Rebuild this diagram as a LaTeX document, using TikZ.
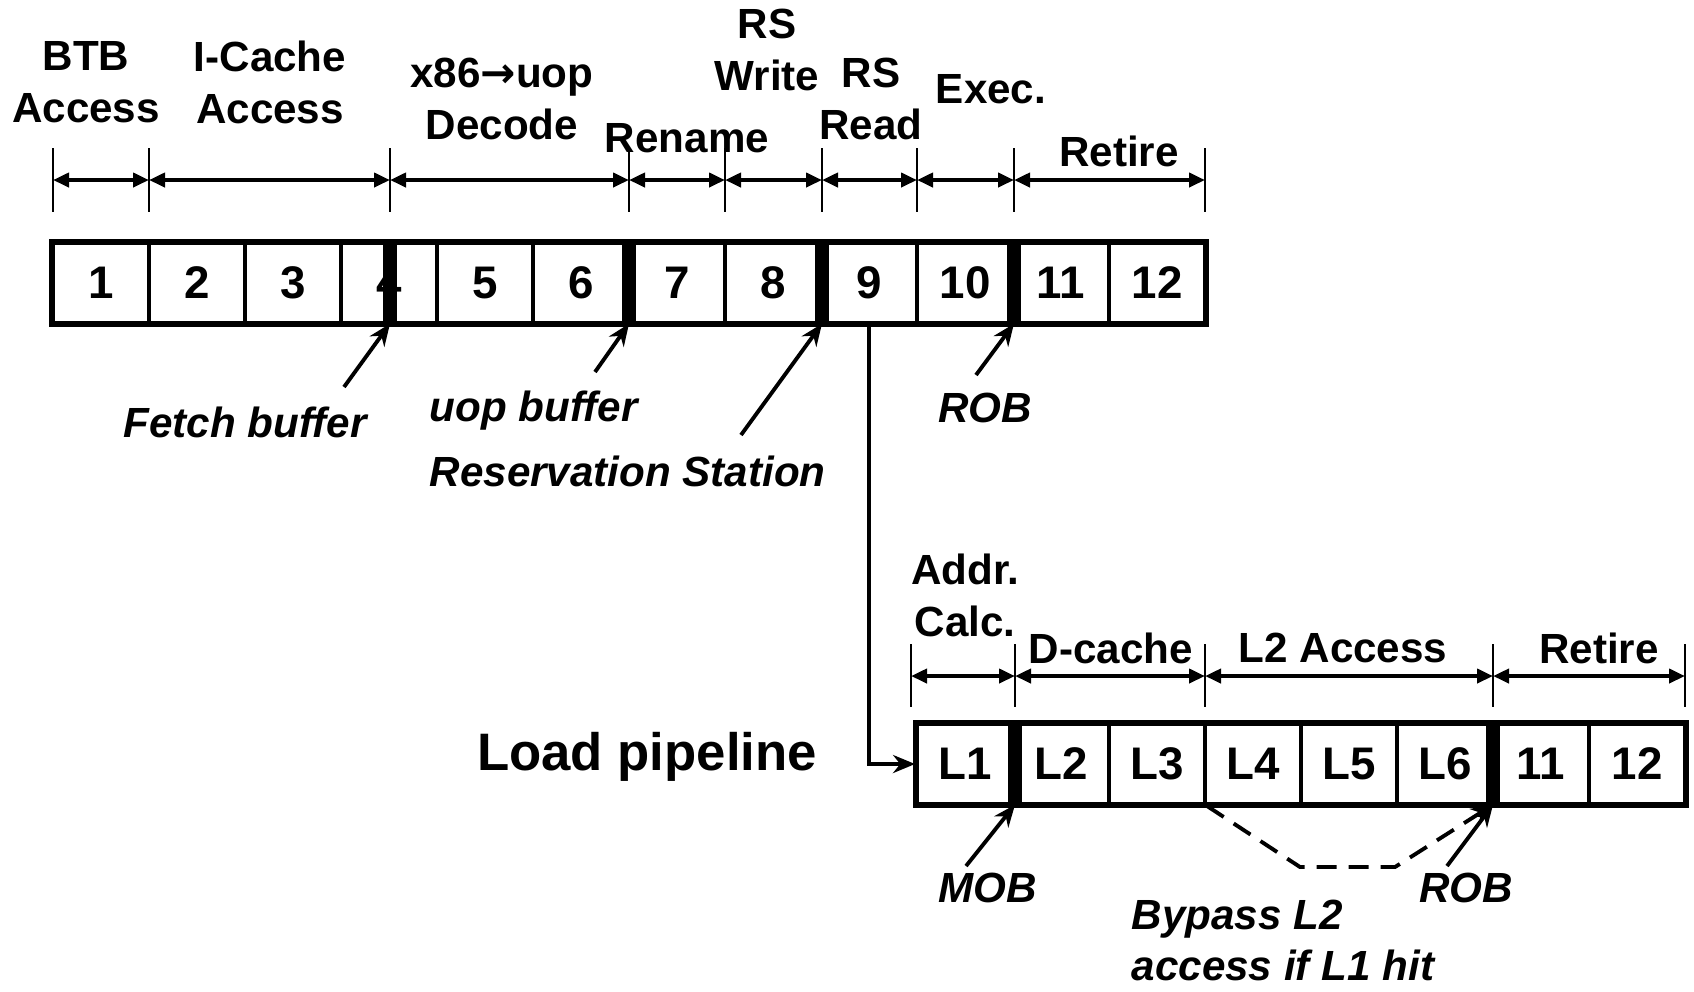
\documentclass[tikz,border=0pt]{standalone}
\usepackage{fontspec}
\setmainfont{Liberation Sans}
\newfontfamily\arrowfont{DejaVu Sans}
\usetikzlibrary{positioning,arrows.meta}
\tikzset{
  stage-cell/.style={draw,line width=1.1pt,minimum width=9.6mm,minimum height=8mm,
    inner sep=0pt,font=\fontsize{13}{15}\selectfont\bfseries},
  stage-bar/.style={fill=black,minimum width=1.4mm,minimum height=8mm,inner sep=0pt},
  frame/.style={line width=1.4pt},
  stage-label/.style={align=center,inner sep=0pt,font=\fontsize{12}{14.8}\selectfont\bfseries},
  buf-label/.style={inner sep=0pt,font=\fontsize{12}{14.5}\selectfont\bfseries\itshape},
  tick/.style={line width=0.6pt},
  span/.style={{Triangle[length=1.6mm,width=1.4mm]}-{Triangle[length=1.6mm,width=1.4mm]},line width=1.1pt},
  ptr/.style={-{Stealth[length=2.2mm,width=1.8mm]},line width=1.1pt},
  ptr-dashed/.style={ptr,dash pattern=on 2mm off 1.2mm},
}
\begin{document}
\begin{tikzpicture}[x=0.1mm,y=-0.1mm]
  \useasboundingbox (0,0) rectangle (1694,991);
  % main pipeline
  \foreach \i in {1,...,12}
    \node[stage-cell] (c\i) at ({53+96*(\i-0.5)},283) {\i};
  \draw[frame] (c1.north west) rectangle (c12.south east);
  \foreach \n/\x in {b4/390,b6/629,b8/822,b10/1014}
    \node[stage-bar] (\n) at (\x,283) {};
  % stage spans
  \foreach \n/\x in {0/53,1/149,2/390,3/629,4/725,5/822,6/917,7/1014,8/1205} {
    \coordinate (t\n) at (\x,180);
    \draw[tick] (\x,148) -- (\x,212);
  }
  \foreach \a/\b in {0/1,1/2,2/3,3/4,4/5,5/6,6/7,7/8}
    \draw[span] (t\a) -- (t\b);
  \node[stage-label] (btb) at (86,82) {BTB\\Access};
  \node[stage-label] (icache) at (270,82) {I-Cache\\Access};
  \node[stage-label] (decode) at (502,99) {x86{\arrowfont\bfseries →}uop\\Decode};
  \node[stage-label] (rename) at (687,138) {Rename};
  \node[stage-label] (rswrite) at (767,50) {RS\\Write};
  \node[stage-label] (rsread) at (871,99) {RS\\Read};
  \node[stage-label] (exec) at (991,89) {Exec.};
  \node[stage-label] (retire) at (1119,151) {Retire};
  % buffers
  \node[buf-label,anchor=base west] (fetchbuf) at (123,437) {Fetch buffer};
  \node[buf-label,anchor=base west] (uopbuf) at (429,421) {uop buffer};
  \node[buf-label,anchor=base west] (rs) at (429,486) {Reservation Station};
  \node[buf-label] (rob) at (985,408) {ROB};
  \coordinate (fetchbuf-tail) at (344,387);
  \coordinate (uopbuf-tail) at (595,372);
  \coordinate (rs-tail) at (741,435);
  \coordinate (rob-tail) at (976,375);
  \draw[ptr] (fetchbuf-tail) -- (b4.south);
  \draw[ptr] (uopbuf-tail) -- (b6.south);
  \draw[ptr] (rs-tail) -- (b8.south);
  \draw[ptr] (rob-tail) -- (b10.south);
  % load pipeline
  \node[font=\fontsize{15}{18}\selectfont\bfseries,inner sep=0pt,anchor=base] (load) at (647,770) {Load pipeline};
  \foreach \i/\t in {1/L1,2/L2,3/L3,4/L4,5/L5,6/L6,7/11,8/12}
    \node[stage-cell] (l\i) at ({917+96*(\i-0.5)},764) {\t};
  \draw[frame] (l1.north west) rectangle (l8.south east);
  \foreach \n/\x in {m1/1015,m6/1493}
    \node[stage-bar] (\n) at (\x,764) {};
  \draw[ptr] (c9.south) |- (l1.west);
  \foreach \n/\x in {0/911,1/1015,2/1205,3/1493,4/1685} {
    \coordinate (s\n) at (\x,676);
    \draw[tick] (\x,644) -- (\x,707);
  }
  \foreach \a/\b in {0/1,1/2,2/3,3/4}
    \draw[span] (s\a) -- (s\b);
  \node[stage-label] (addr) at (965,595) {Addr.\\Calc.};
  \node[stage-label] (dcache) at (1111,648) {D-cache};
  \node[stage-label] (l2) at (1343,648) {L2 Access};
  \node[stage-label] (retire2) at (1599,648) {Retire};
  \node[buf-label] (mob) at (988,888) {MOB};
  \node[buf-label] (rob2) at (1466,888) {ROB};
  \node[buf-label,align=left,anchor=south west] (bypass) at (1131,982) {Bypass L2\\access if L1 hit};
  \coordinate (mob-tail) at (966,866);
  \coordinate (rob2-tail) at (1447,866);
  \draw[ptr] (mob-tail) -- (m1.south);
  \draw[ptr] (rob2-tail) -- (m6.south);
  \coordinate (bypass-a) at (1300,867);
  \coordinate (bypass-b) at (1395,867);
  \draw[ptr-dashed] (l3.south east) -- (bypass-a) -- (bypass-b) -- (m6.south);
\end{tikzpicture}
\end{document}
